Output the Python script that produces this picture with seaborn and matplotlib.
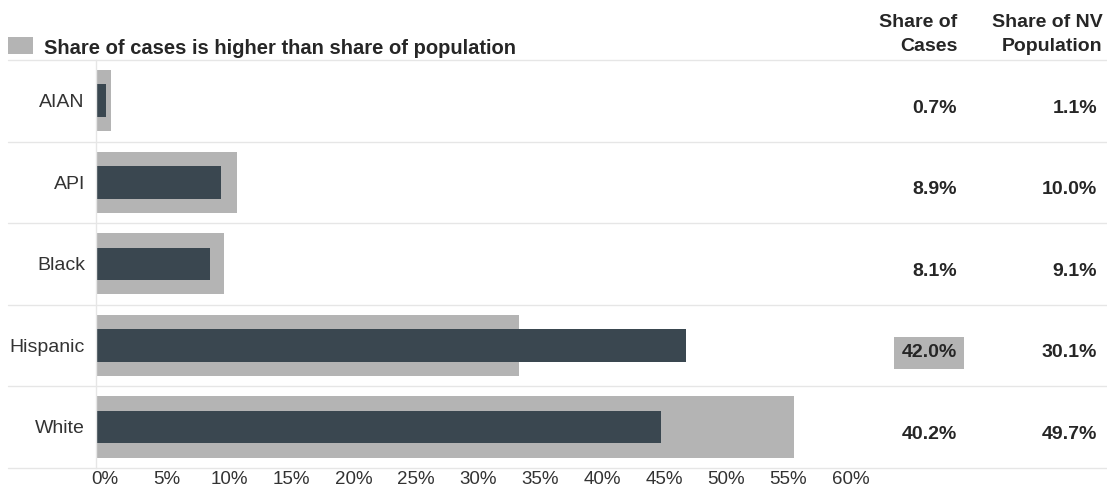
import matplotlib
matplotlib.use("Agg")
import matplotlib.pyplot as plt
from matplotlib.patches import Rectangle
import seaborn as sns
import pandas as pd

# ---- data ----
groups = ["AIAN", "API", "Black", "Hispanic", "White"]
share_cases = [0.7, 8.9, 8.1, 42.0, 40.2]
share_population = [1.1, 10.0, 9.1, 30.1, 49.7]
tick_values = [0, 5, 10, 15, 20, 25, 30, 35, 40, 45, 50, 55, 60]
tick_labels = [f"{t}%" for t in tick_values]
legend_text = "Share of cases is higher than share of population"
col_headers = [("Share of", "Cases"), ("Share of NV", "Population")]

df = pd.DataFrame({"group": groups, "cases": share_cases, "pop": share_population})

GREY = "#b4b4b4"
DARK = "#3a4750"
GRID = "#e6e6e6"
TXT = "#333333"
BTXT = "#262626"

sns.set_theme(style="white")
plt.rcParams["font.family"] = ["Liberation Sans", "DejaVu Sans"]

W, H = 1107, 491
fig = plt.figure(figsize=(W / 100, H / 100), dpi=100)
ax_left, ax_right = 96, 880
ax_top, ax_bot = 60, 467.7
ax = fig.add_axes([ax_left / W, (H - ax_bot) / H, (ax_right - ax_left) / W, (ax_bot - ax_top) / H])

sns.barplot(data=df, x="pop", y="group", color=GREY, width=0.75, saturation=1,
            linewidth=0, ax=ax, orient="h")
sns.barplot(data=df, x="cases", y="group", color=DARK, width=0.4, saturation=1,
            linewidth=0, ax=ax, orient="h")

px_per_pct = 14.05
ax.set_xlim(0, (ax_right - ax_left) / px_per_pct)
ax.set_ylim(len(groups) - 0.5, -0.5)
ax.set_xlabel("")
ax.set_ylabel("")
ax.set_xticks([])
ax.tick_params(axis="y", length=0, pad=8, labelsize=14, labelcolor=TXT)
for s in ["top", "right", "bottom"]:
    ax.spines[s].set_visible(False)
ax.spines["left"].set_color(GRID)
ax.spines["left"].set_linewidth(1)

# row separators spanning full width
span = ax_right - ax_left
for k in range(len(groups) + 1):
    ax.axhline(k - 0.5, xmin=(8 - ax_left) / span, xmax=(W - ax_left) / span,
               color=GRID, lw=1, clip_on=False, zorder=0)

# bottom axis labels (as laid out in the reference)
ax2 = ax.twiny()
lab_slope, lab_icpt = 12.43, 104.8
ax2.set_xlim((ax_left - lab_icpt) / lab_slope, (ax_right - lab_icpt) / lab_slope)
ax2.set_xticks(tick_values)
ax2.set_xticklabels(tick_labels)
ax2.xaxis.set_ticks_position("bottom")
ax2.xaxis.set_label_position("bottom")
ax2.tick_params(axis="x", length=0, pad=2.7, labelsize=13.5, labelcolor=TXT)
for s in ax2.spines.values():
    s.set_visible(False)

# table columns
col_x = [957 / W, 1097 / W]
for i, (c, p) in enumerate(zip(share_cases, share_population)):
    bbox = None
    if c > p:
        bbox = dict(boxstyle="square,pad=0.38", fc=GREY, ec="none")
    ax.annotate(f"{c:.1f}%", xy=(col_x[0], i), xycoords=("figure fraction", "data"),
                xytext=(0, -8.6), textcoords="offset points",
                ha="right", va="baseline", fontsize=14, fontweight="bold",
                color=BTXT, bbox=bbox)
    ax.annotate(f"{p:.1f}%", xy=(col_x[1], i), xycoords=("figure fraction", "data"),
                xytext=(0, -8.6), textcoords="offset points",
                ha="right", va="baseline", fontsize=14, fontweight="bold", color=BTXT)

# headers
hdr_x = [957.3 / W, 1102.3 / W]
for hx, (l1, l2) in zip(hdr_x, col_headers):
    fig.text(hx, (H - 26.7) / H, l1, ha="right", va="baseline", fontsize=14,
             fontweight="bold", color=BTXT)
    fig.text(hx, (H - 50.7) / H, l2, ha="right", va="baseline", fontsize=14,
             fontweight="bold", color=BTXT)

# legend swatch + text
fig.add_artist(Rectangle((8 / W, (H - 54) / H), 24.5 / W, 17 / H,
                         transform=fig.transFigure, fc=GREY, ec="none"))
fig.text(44.5 / W, (H - 53.5) / H, legend_text, ha="left", va="baseline",
         fontsize=14.5, fontweight="bold", color=BTXT)

fig.savefig("out.png", dpi=100)
